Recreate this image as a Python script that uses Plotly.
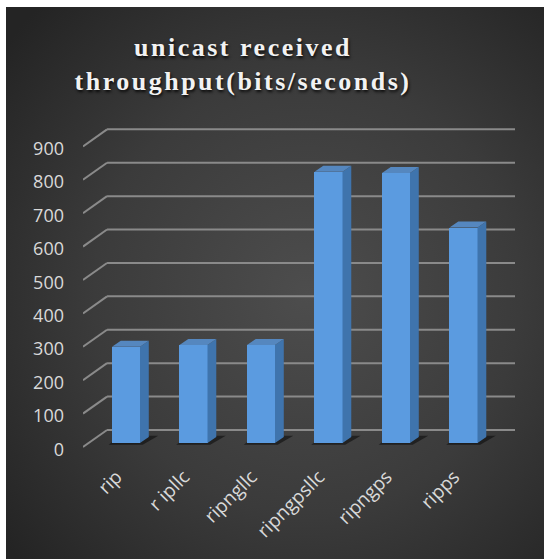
import base64
import plotly.graph_objects as go

# Throughput per routing configuration
categories = ["rip", "r ipllc", "ripngllc", "ripngpsllc", "ripngps", "ripps"]
throughput = [288, 293, 293, 812, 808, 645]
tick_values = [0, 100, 200, 300, 400, 500, 600, 700, 800, 900]
tick_labels = [str(v) for v in tick_values]

# pseudo-3D geometry (in axis units)
BAR_W = 0.415          # front face width
DEPTH_X = 0.13         # side face offset to the right
DEPTH_Y = 18           # top face offset upward
WALL_DX = 0.356        # floor depth from front edge to back wall
WALL_UP = 39           # back-wall gridline lift
FRONT_DOWN = 12        # front end of the floor diagonal
LABEL_SHIFT = 0.14     # rotated category labels sit slightly left of the column
X_MIN, X_MAX = -0.637, 5.763
Y_MIN, Y_MAX = -21, 967

xs = list(range(len(categories)))

fig = go.Figure()

# front faces of the columns
fig.add_trace(go.Bar(
    x=xs, y=throughput, width=BAR_W,
    marker=dict(color="#5b9be0", line=dict(width=0)),
    hoverinfo="skip", showlegend=False,
))

# side faces
sx, sy = [], []
for i, v in zip(xs, throughput):
    r = i + BAR_W / 2
    sx += [r, r + DEPTH_X, r + DEPTH_X, r, r, None]
    sy += [0, DEPTH_Y, v + DEPTH_Y, v, 0, None]
fig.add_trace(go.Scatter(
    x=sx, y=sy, mode="lines", fill="toself",
    fillcolor="#3f74ad", line=dict(width=0, color="#3f74ad"),
    hoverinfo="skip", showlegend=False,
))

# top faces
tx, ty = [], []
for i, v in zip(xs, throughput):
    l, r = i - BAR_W / 2, i + BAR_W / 2
    tx += [l, l + DEPTH_X, r + DEPTH_X, r, l, None]
    ty += [v, v + DEPTH_Y, v + DEPTH_Y, v, v, None]
fig.add_trace(go.Scatter(
    x=tx, y=ty, mode="lines", fill="toself",
    fillcolor="#5587bf", line=dict(width=0, color="#5587bf"),
    hoverinfo="skip", showlegend=False,
))

shapes = []
# gridlines: back wall plus the floor/wall diagonal on the left
for v in tick_values:
    shapes.append(dict(type="line", xref="x", yref="y", layer="below",
                       x0=X_MIN + WALL_DX, y0=v + WALL_UP, x1=X_MAX, y1=v + WALL_UP,
                       line=dict(color="#8a8a8a", width=2)))
    shapes.append(dict(type="line", xref="x", yref="y", layer="below",
                       x0=X_MIN, y0=v - FRONT_DOWN, x1=X_MIN + WALL_DX, y1=v + WALL_UP,
                       line=dict(color="#8a8a8a", width=2)))
# soft floor shadows under each column
for i in xs:
    l, r = i - BAR_W / 2, i + BAR_W / 2
    shapes.append(dict(type="path", xref="x", yref="y", layer="below",
                       path=(f"M{l - 0.05},{-5} L{r + 0.04},{-5} "
                             f"L{r + DEPTH_X + 0.14},{DEPTH_Y + 4} L{l + DEPTH_X},{DEPTH_Y + 4} Z"),
                       fillcolor="rgba(10,10,10,0.55)", line=dict(width=0)))

# dark radial backdrop
svg = (
    '<svg xmlns="http://www.w3.org/2000/svg" width="538" height="552">'
    '<defs><radialGradient id="g" cx="0.56" cy="0.52" r="0.72">'
    '<stop offset="0" stop-color="#4d4d4d"/>'
    '<stop offset="0.55" stop-color="#3b3b3b"/>'
    '<stop offset="1" stop-color="#242424"/>'
    '</radialGradient></defs>'
    '<rect width="538" height="552" fill="url(#g)"/></svg>'
)
bg_src = "data:image/svg+xml;base64," + base64.b64encode(svg.encode()).decode()

PLOT_L, PLOT_R, PLOT_T, PLOT_B = 83, 515, 120, 450
pw, ph = PLOT_R - PLOT_L, PLOT_B - PLOT_T

fig.update_layout(
    width=544, height=559,
    margin=dict(l=PLOT_L, r=544 - PLOT_R, t=PLOT_T, b=559 - PLOT_B, pad=0,
                autoexpand=False),
    paper_bgcolor="white",
    plot_bgcolor="rgba(0,0,0,0)",
    images=[dict(source=bg_src, xref="paper", yref="paper",
                 x=(6 - PLOT_L) / pw, y=(PLOT_B - 7) / ph,
                 sizex=538 / pw, sizey=552 / ph,
                 sizing="stretch", layer="below", xanchor="left", yanchor="top")],
    shapes=shapes,
    title=dict(
        text=('<span style="letter-spacing:2.5px">unicast received<br>'
              'throughput(bits/seconds)</span>'),
        x=243 / 544, xanchor="center", xref="container",
        y=1 - 56 / 559, yanchor="top", yref="container",
        font=dict(family="Liberation Serif", size=26, color="#f2f2f2",
                  weight="bold", shadow="1px 2px 3px rgba(0,0,0,0.85)"),
    ),
    xaxis=dict(
        range=[X_MIN, X_MAX], tickvals=[i - LABEL_SHIFT for i in xs], ticktext=categories,
        tickangle=-45, showgrid=False, zeroline=False, showline=False,
        ticks="", ticklabelstandoff=11, automargin=False,
        tickfont=dict(family="Open Sans", size=19, color="#d9d9d9"),
    ),
    yaxis=dict(
        range=[Y_MIN, Y_MAX], tickvals=[v - 19 for v in tick_values], ticktext=tick_labels,
        showgrid=False, zeroline=False, showline=False, ticks="",
        ticklabelstandoff=18, automargin=False,
        tickfont=dict(family="Open Sans", size=18, color="#d9d9d9"),
    ),
    bargap=0,
)

fig.write_html("out.html")
